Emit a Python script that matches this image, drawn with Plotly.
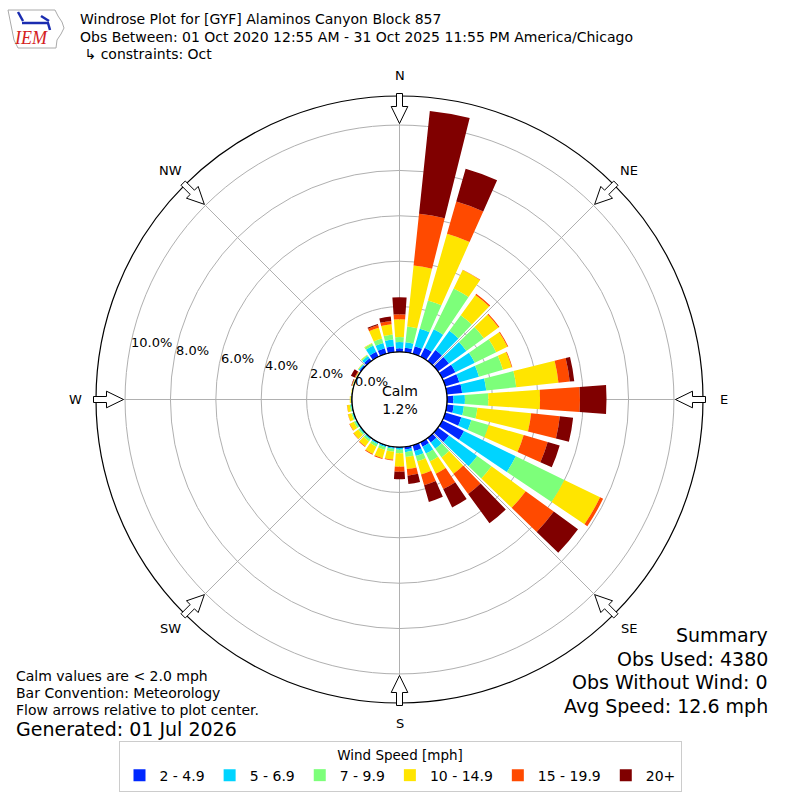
import numpy as np
import plotly.graph_objects as go

# direction bins (deg, meteorological) and speed bins
directions = list(range(0, 360, 10))
speed_bins = ['2 - 4.9', '5 - 6.9', '7 - 9.9', '10 - 14.9', '15 - 19.9', '20+']
colors = ['#0028ff', '#00d4ff', '#7dff7a', '#ffe500', '#ff4a00', '#800000']

# frequency [%] per direction, one list per speed bin (0, 10, ... 350 deg)
spd_2_5 = [0.16, 0.20, 0.35, 0.45, 0.60, 0.60, 0.65, 0.65, 0.68, 0.28, 0.31, 0.74,
           1.07, 0.60, 0.25, 0.22, 0.27, 0.12, 0.04, 0.04, 0.04, 0.04, 0.04, 0.03,
           0.03, 0.03, 0.03, 0.02, 0.02, 0.02, 0.02, 0.08, 0.15, 0.25, 0.26, 0.27]
spd_5_7 = [0.28, 0.24, 0.80, 0.90, 1.05, 0.95, 0.95, 0.90, 1.07, 0.51, 0.45, 0.46,
           2.54, 1.54, 0.34, 0.34, 0.23, 0.12, 0.08, 0.06, 0.06, 0.06, 0.05, 0.05,
           0.04, 0.04, 0.03, 0.02, 0.01, 0.02, 0.02, 0.05, 0.12, 0.30, 0.24, 0.29]
spd_7_10 = [0.22, 0.70, 1.30, 2.00, 0.85, 0.95, 1.05, 1.10, 1.33, 1.03, 0.60, 0.80,
            2.38, 0.78, 0.47, 0.39, 0.24, 0.22, 0.16, 0.12, 0.12, 0.12, 0.10, 0.08,
            0.08, 0.05, 0.05, 0.02, 0.01, 0.02, 0.02, 0.03, 0.06, 0.10, 0.20, 0.23]
spd_10_15 = [0.78, 2.70, 3.05, 0.90, 1.10, 0.80, 0.55, 0.40, 1.87, 2.28, 2.38, 1.60,
             1.75, 1.86, 0.89, 0.60, 0.60, 0.53, 0.59, 0.35, 0.38, 0.36, 0.27, 0.25,
             0.20, 0.15, 0.12, 0.04, 0.02, 0.02, 0.02, 0.02, 0.02, 0.03, 0.50, 0.45]
spd_15_20 = [0.22, 2.30, 1.48, 0.02, 0.06, 0.05, 0.04, 0.03, 0.50, 1.76, 1.27, 1.10,
             0.15, 1.53, 1.10, 0.75, 0.50, 0.29, 0.22, 0.04, 0.04, 0.04, 0.03, 0.02,
             0.02, 0.01, 0.01, 0.00, 0.00, 0.02, 0.03, 0.00, 0.00, 0.00, 0.12, 0.15]
spd_20p = [0.75, 4.55, 1.50, 0.00, 0.00, 0.00, 0.00, 0.00, 0.20, 1.17, 0.59, 0.55,
           0.00, 1.32, 1.60, 0.90, 0.76, 0.37, 0.33, 0.00, 0.00, 0.00, 0.00, 0.00,
           0.00, 0.00, 0.00, 0.00, 0.00, 0.02, 0.18, 0.00, 0.00, 0.00, 0.05, 0.19]
series = [spd_2_5, spd_5_7, spd_7_10, spd_10_15, spd_15_20, spd_20p]

radial_ticks = [0, 2, 4, 6, 8, 10]
compass = ['N', 'NE', 'E', 'SE', 'S', 'SW', 'W', 'NW']
calm_pct = 1.2

# page geometry (pixels)
W = H = 800
CX, CY = 399.5, 399.5
R_OUT, R_HOLE = 303.5, 47.5
RMAX = 11.28
FONT = 'DejaVu Sans'


def paper(x, y):
    return x / W, 1 - y / H


def polar_px(angle, r):
    a = np.radians(angle)
    return CX + r * np.sin(a), CY - r * np.cos(a)


def path_of(pts):
    return 'M ' + ' L '.join('%.5f,%.5f' % paper(*q) for q in pts) + ' Z'


fig = go.Figure()

for name, vals, col in zip(speed_bins, series, colors):
    fig.add_trace(go.Barpolar(r=vals, theta=directions, name=name,
                              marker=dict(color=col, line=dict(width=0))))

# black circle around the calm hole
ring = np.arange(0, 361, 2)
fig.add_trace(go.Scatterpolar(r=[0] * len(ring), theta=ring, mode='lines',
                              line=dict(color='black', width=1.2),
                              showlegend=False, hoverinfo='skip'))

x0, y1 = paper(CX - R_OUT, CY - R_OUT)
x1, y0 = paper(CX + R_OUT, CY + R_OUT)

fig.update_layout(
    width=W, height=H,
    margin=dict(l=0, r=0, t=0, b=0),
    paper_bgcolor='white',
    font=dict(family=FONT, size=13, color='black'),
    polar=dict(
        domain=dict(x=[x0, x1], y=[y0, y1]),
        hole=R_HOLE / R_OUT,
        bgcolor='white',
        barmode='stack',
        bargap=0.2,
        radialaxis=dict(range=[0, RMAX], tickvals=radial_ticks[1:],
                        showticklabels=False, ticks='', showline=False,
                        gridcolor='#b0b0b0', gridwidth=1, layer='above traces'),
        angularaxis=dict(rotation=90, direction='clockwise',
                         tickvals=list(range(0, 360, 45)), showticklabels=False,
                         ticks='', showline=True, linecolor='black', linewidth=1.2,
                         gridcolor='#b0b0b0', gridwidth=1, layer='above traces'),
    ),
    legend=dict(orientation='h', x=0.5, xanchor='center', y=1 - 741 / H,
                yanchor='top', bordercolor='#cccccc', borderwidth=1,
                bgcolor='white', font=dict(size=14), itemwidth=30,
                title=dict(text='Wind Speed [mph]', side='top center',
                           font=dict(size=13.5))),
)

ann = []
shapes = []

# radial labels, anchored on each ring 10 deg above west
for v in radial_ticks:
    r = R_HOLE + v / RMAX * (R_OUT - R_HOLE)
    x, y = paper(*polar_px(280, r))
    ann.append(dict(x=x, y=y, xref='paper', yref='paper', text=f'{v:.1f}%',
                    xanchor='left', yanchor='bottom', showarrow=False,
                    font=dict(size=13)))

# compass labels and hollow arrows
for i, lab in enumerate(compass):
    ang = i * 45
    x, y = paper(*polar_px(ang, 324))
    ann.append(dict(x=x, y=y, xref='paper', yref='paper', text=lab,
                    xanchor='center', yanchor='middle', showarrow=False,
                    font=dict(size=13)))
    a = np.radians(ang)
    u = np.array([np.sin(a), -np.cos(a)])
    p = np.array([np.cos(a), np.sin(a)])
    c = np.array([CX, CY])
    pts = [c + u * 306 + p * 3, c + u * 293 + p * 3, c + u * 293 + p * 8.3,
           c + u * 276, c + u * 293 - p * 8.3, c + u * 293 - p * 3,
           c + u * 306 - p * 3]
    shapes.append(dict(type='path', path=path_of(pts), xref='paper', yref='paper',
                       fillcolor='white', line=dict(color='black', width=1)))

# calm label
cx, cy = paper(CX, CY)
ann.append(dict(x=cx, y=cy, xref='paper', yref='paper',
                text=f'Calm<br>{calm_pct:.1f}%', showarrow=False,
                xanchor='center', yanchor='middle', font=dict(size=14)))

# header
header = ['Windrose Plot for [GYF] Alaminos Canyon Block 857',
          'Obs Between: 01 Oct 2020 12:55 AM - 31 Oct 2025 11:55 PM America/Chicago',
          ' \u21b3 constraints: Oct']
for k, t in enumerate(header):
    x, y = paper(78, 19 + k * 17.5)
    ann.append(dict(x=x, y=y, xref='paper', yref='paper', text=t,
                    xanchor='left', yanchor='middle', showarrow=False,
                    font=dict(size=14)))

# IEM logo (rough state outline, glyph and lettering)
outline = [(8, 10), (55, 10), (58, 16), (62, 22), (64, 28), (61, 34), (57, 40),
           (56, 48), (18, 48), (14, 40), (12, 30), (10, 20)]
shapes.append(dict(type='path', xref='paper', yref='paper', path=path_of(outline),
                   line=dict(color='#aaaaaa', width=1)))
for (ax, ay, bx, by) in [(22, 23, 49, 23), (18, 12, 23, 21), (41, 16, 49, 21),
                         (48, 23, 50, 30)]:
    (px0, py0), (px1, py1) = paper(ax, ay), paper(bx, by)
    shapes.append(dict(type='line', xref='paper', yref='paper', x0=px0, y0=py0,
                       x1=px1, y1=py1, line=dict(color='#1a2cb0', width=2.5)))
x, y = paper(31, 38)
ann.append(dict(x=x, y=y, xref='paper', yref='paper', text='<i>IEM</i>',
                xanchor='center', yanchor='middle', showarrow=False,
                font=dict(family='Liberation Serif', size=18, color='#d42020')))

# footer notes
notes = ['Calm values are < 2.0 mph', 'Bar Convention: Meteorology',
         'Flow arrows relative to plot center.']
for k, t in enumerate(notes):
    x, y = paper(14, 676 + k * 17)
    ann.append(dict(x=x, y=y, xref='paper', yref='paper', text=t,
                    xanchor='left', yanchor='middle', showarrow=False,
                    font=dict(size=14)))
x, y = paper(14, 729)
ann.append(dict(x=x, y=y, xref='paper', yref='paper',
                text='Generated: 01 Jul 2026', xanchor='left', yanchor='middle',
                showarrow=False, font=dict(size=19)))

summary = ['Summary', 'Obs Used: 4380', 'Obs Without Wind: 0',
           'Avg Speed: 12.6 mph']
for k, t in enumerate(summary):
    x, y = paper(770, 635 + k * 23.7)
    ann.append(dict(x=x, y=y, xref='paper', yref='paper', text=t,
                    xanchor='right', yanchor='middle', showarrow=False,
                    font=dict(size=19)))

fig.update_layout(annotations=ann, shapes=shapes)
fig.write_html('out.html', config={'displayModeBar': False},
               post_script="document.body.style.margin='0px';"
                           "document.body.style.overflow='hidden';")
